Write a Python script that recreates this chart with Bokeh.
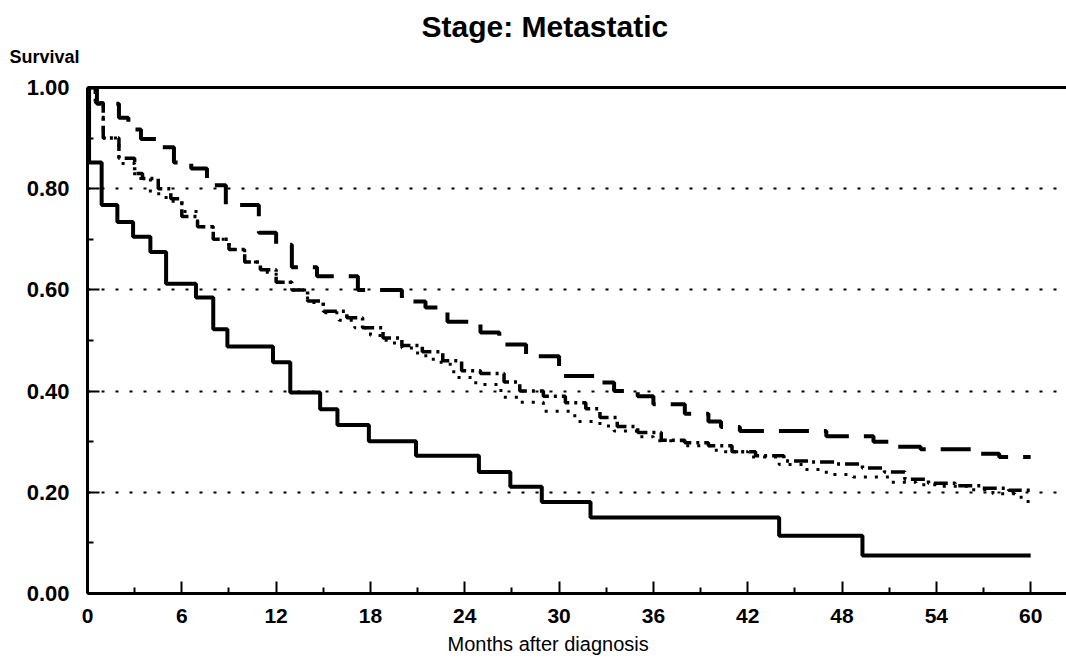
from bokeh.plotting import figure
from bokeh.models import Range1d, FixedTicker, LinearAxis, Title
from bokeh.embed import file_html
from bokeh.resources import INLINE

# ---- data ----
x_ticks = [0, 6, 12, 18, 24, 30, 36, 42, 48, 54, 60]
x_minor = [3, 9, 15, 21, 27, 33, 39, 45, 51, 57]
y_ticks = [0.0, 0.2, 0.4, 0.6, 0.8, 1.0]
y_tick_labels = ["0.00", "0.20", "0.40", "0.60", "0.80", "1.00"]
y_minor = [0.1, 0.3, 0.5, 0.7, 0.9]
grid_levels = [0.2, 0.4, 0.6, 0.8]

# solid curve
solid_months = [0, 0.1, 0.9, 1.9, 2.9, 4.0, 5.0, 6.9, 8.0, 8.9, 11.8, 12.9, 14.8, 15.9,
                17.9, 20.9, 24.9, 26.9, 28.9, 32.0, 44.0, 49.3, 60]
solid_surv = [1.0, 0.852, 0.768, 0.734, 0.705, 0.675, 0.612, 0.585, 0.522, 0.488, 0.457,
              0.397, 0.364, 0.333, 0.301, 0.272, 0.240, 0.211, 0.181, 0.150, 0.114, 0.075, 0.075]

# long-dashed curve
dash_months = [0, 0.6, 2.0, 2.6, 3.4, 4.6, 5.5, 6.6, 7.6, 8.8, 10.9, 12.0, 13.0, 14.6, 17.2,
               20.0, 21.5, 22.9, 25.0, 26.2, 27.9, 30.0, 32.5, 33.5, 35.0, 36.0, 38.0, 39.5,
               40.3, 41.5, 47.0, 50.0, 51.5, 53.0, 56.5, 58.0, 60]
dash_surv = [1.0, 0.968, 0.94, 0.917, 0.898, 0.882, 0.852, 0.84, 0.807, 0.768, 0.713, 0.689,
             0.645, 0.627, 0.60, 0.577, 0.565, 0.537, 0.516, 0.492, 0.469, 0.43, 0.417, 0.40,
             0.39, 0.374, 0.355, 0.34, 0.329, 0.321, 0.311, 0.30, 0.29, 0.285, 0.276, 0.27, 0.27]

# dash-dot curve
dashdot_months = [0, 0.5, 1.0, 2.0, 3.0, 3.5, 4.5, 5.3, 6.0, 7.0, 8.0, 9.0, 10.0, 11.0, 12.0,
                  13.0, 14.0, 15.0, 16.5, 17.5, 18.8, 20.0, 21.3, 22.6, 23.8, 25.0, 26.5, 27.5,
                  29.0, 30.4, 31.7, 32.6, 33.7, 35.0, 36.5, 38.0, 39.5, 41.0, 42.5, 44.3, 46.0,
                  47.6, 49.3, 50.7, 52.0, 53.5, 55.2, 56.8, 58.6, 60]
dashdot_surv = [1.0, 0.97, 0.90, 0.86, 0.83, 0.82, 0.80, 0.78, 0.745, 0.725, 0.70, 0.68, 0.655,
                0.64, 0.615, 0.60, 0.578, 0.558, 0.545, 0.525, 0.505, 0.49, 0.478, 0.46, 0.44,
                0.435, 0.418, 0.40, 0.39, 0.377, 0.365, 0.348, 0.33, 0.318, 0.303, 0.298, 0.292,
                0.28, 0.272, 0.262, 0.26, 0.256, 0.248, 0.24, 0.226, 0.218, 0.213, 0.208, 0.204, 0.20]

# dotted curve
dotted_months = [0, 0.5, 1.0, 2.0, 3.0, 4.0, 5.0, 6.0, 7.0, 8.0, 9.0, 10.0, 11.0, 12.0, 13.0,
                 14.0, 15.0, 16.0, 17.0, 18.0, 19.0, 20.0, 21.0, 21.8, 22.5, 23.3, 24.7, 26.3,
                 27.5, 29.0, 31.0, 32.6, 33.5, 35.0, 36.0, 38.0, 40.0, 42.0, 44.0, 45.5, 47.0,
                 48.7, 51.0, 52.7, 54.3, 56.0, 57.6, 59.0, 59.7, 60]
dotted_surv = [1.0, 0.97, 0.90, 0.85, 0.82, 0.79, 0.775, 0.755, 0.725, 0.70, 0.68, 0.655, 0.635,
               0.615, 0.60, 0.575, 0.555, 0.54, 0.525, 0.51, 0.495, 0.485, 0.47, 0.463, 0.453,
               0.427, 0.413, 0.388, 0.378, 0.36, 0.34, 0.331, 0.321, 0.31, 0.302, 0.292, 0.28,
               0.27, 0.255, 0.245, 0.235, 0.23, 0.22, 0.215, 0.212, 0.205, 0.197, 0.19, 0.182, 0.18]

FONT = "Liberation Sans"

p = figure(width=1066, height=659, output_backend="svg", toolbar_location=None,
           x_range=Range1d(0, 62.28), y_range=Range1d(0, 1.0),
           min_border_left=87, min_border_right=0, min_border_top=87, min_border_bottom=64,
           background_fill_color="white", border_fill_color="white")
p.outline_line_color = None
p.xgrid.visible = False
p.ygrid.ticker = FixedTicker(ticks=grid_levels)
p.ygrid.grid_line_color = "black"
p.ygrid.grid_line_dash = "3 11"
p.ygrid.grid_line_width = 2

for ax in (p.xaxis[0], p.yaxis[0]):
    ax.axis_line_width = 3
    ax.axis_line_color = "black"
    ax.major_tick_in = 12
    ax.major_tick_out = 0
    ax.minor_tick_in = 6
    ax.minor_tick_out = 0
    ax.major_tick_line_width = 2
    ax.minor_tick_line_width = 2
    ax.major_tick_line_color = "black"
    ax.minor_tick_line_color = "black"
    ax.major_label_text_font = FONT
    ax.major_label_text_font_style = "bold"
    ax.major_label_text_font_size = "22px"
    ax.major_label_text_color = "black"

p.xaxis[0].ticker = FixedTicker(ticks=x_ticks, minor_ticks=x_minor)
p.xaxis[0].major_label_standoff = 15
p.xaxis[0].major_label_text_font_size = "21px"
p.yaxis[0].ticker = FixedTicker(ticks=y_ticks, minor_ticks=y_minor)
p.yaxis[0].major_label_overrides = {t: s for t, s in zip(y_ticks, y_tick_labels)}
p.yaxis[0].major_label_standoff = 18

# top frame line
top = LinearAxis(ticker=FixedTicker(ticks=[]), axis_line_width=3, axis_line_color="black",
                 major_tick_line_color=None, minor_tick_line_color=None,
                 major_label_text_font_size="0px")
p.add_layout(top, "above")
# blank spacer between the frame and the "Survival" caption
p.add_layout(Title(text=" ", text_font=FONT, text_font_size="16px", standoff=0), "above")

p.step(solid_months, solid_surv, mode="after", line_color="black", line_width=4)
p.step(dash_months, dash_surv, mode="after", line_color="black", line_width=4,
       line_dash="30 15")
p.step(dashdot_months, dashdot_surv, mode="after", line_color="black", line_width=3.5,
       line_dash="14 5 3 5")
p.step(dotted_months, dotted_surv, mode="after", line_color="black", line_width=3,
       line_dash="3 8")

# texts
p.title.text = "Stage:  Metastatic"
p.title.align = "left"
p.title.offset = 334
p.title.standoff = 0
p.title.text_font = FONT
p.title.text_font_style = "bold"
p.title.text_font_size = "30px"
p.title.text_color = "black"

surv_title = Title(text="Survival", align="left", offset=-78, text_font=FONT,
                   text_font_style="bold", text_font_size="18px", text_color="black",
                   standoff=4)
p.add_layout(surv_title, "above")

xlab = Title(text="Months after diagnosis", align="left", offset=360, text_font=FONT,
             text_font_style="normal", text_font_size="20px", text_color="black",
             standoff=10)
p.add_layout(xlab, "below")

open("out.html", "w").write(file_html(p, INLINE))
